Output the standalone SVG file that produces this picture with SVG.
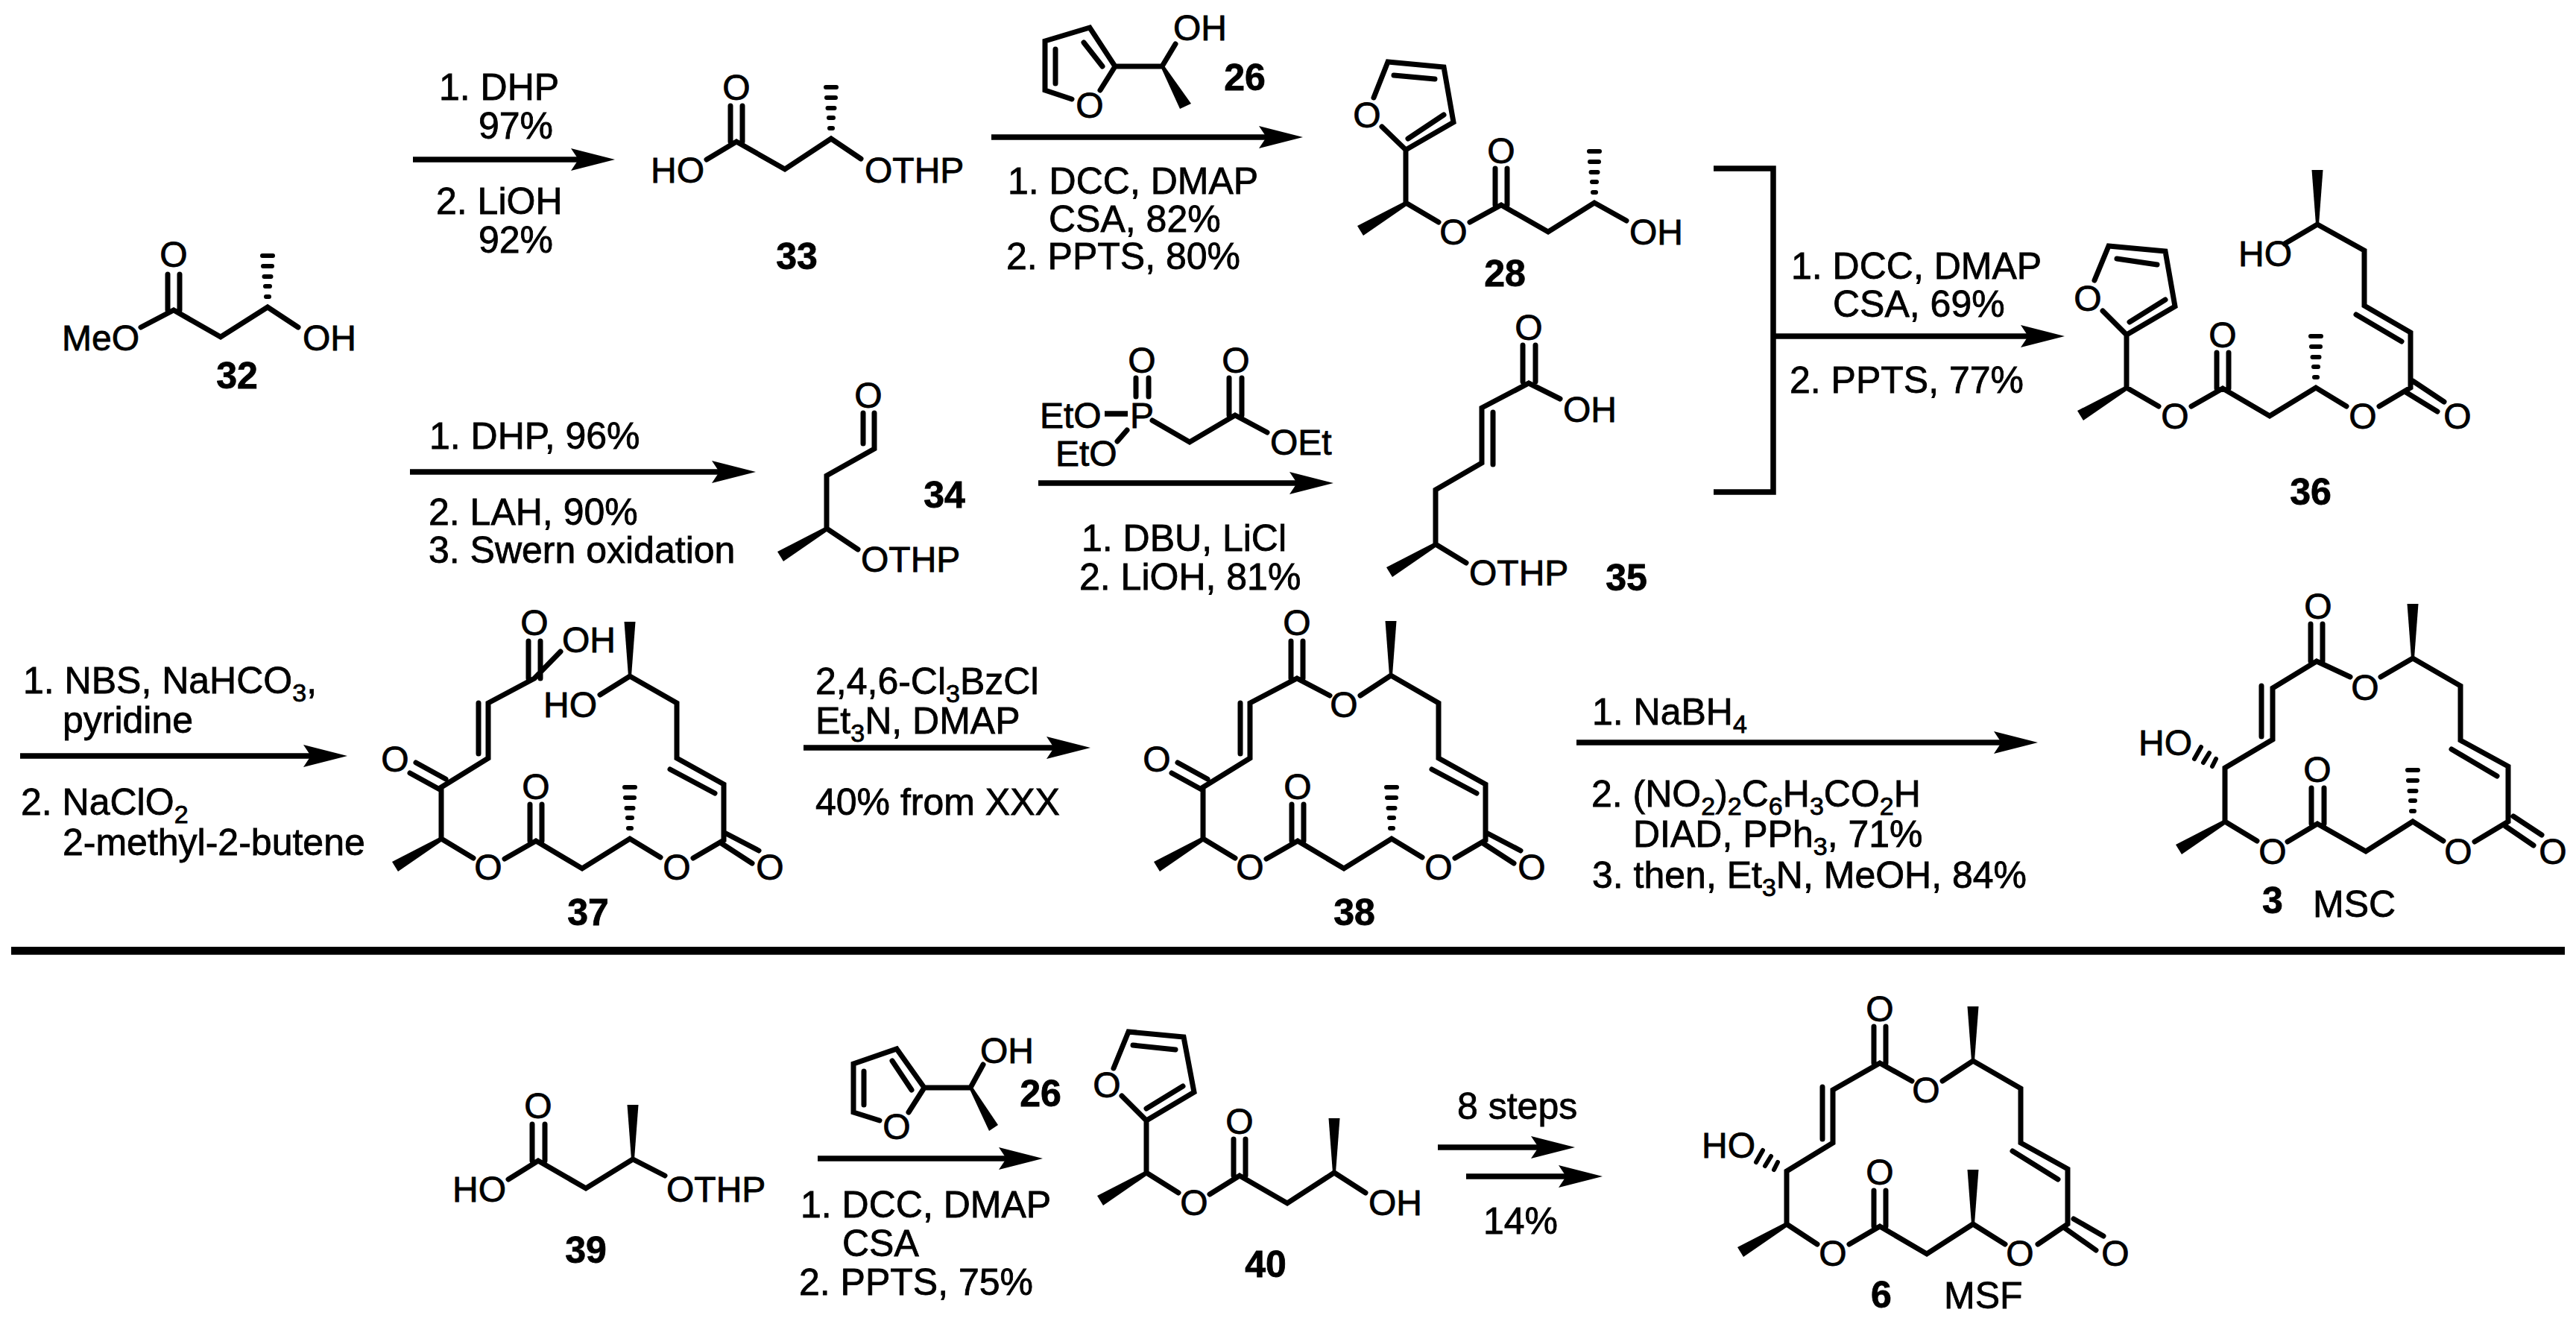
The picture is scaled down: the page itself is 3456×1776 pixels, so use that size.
<svg xmlns="http://www.w3.org/2000/svg" xmlns:xlink="http://www.w3.org/1999/xlink" width="3456" height="1776" viewBox="0 0 3456 1776">
<style>
text{font-family:"Liberation Sans",Arial,sans-serif;fill:#000;stroke:#000;stroke-width:.8}
.r{font-size:50px}
.a{font-size:48px}
.m{font-size:48px;text-anchor:middle}
.n{font-size:50px;font-weight:bold;text-anchor:middle}
.s{font-size:34px}
.b{fill:none;stroke:#000;stroke-width:7;stroke-linecap:round;stroke-linejoin:miter}
.h{fill:none;stroke:#000;stroke-width:6;stroke-linecap:round}
.c{fill:none;stroke:#000;stroke-width:7.5}
</style>
<defs>
<marker id="ah" markerUnits="userSpaceOnUse" markerWidth="60" markerHeight="32" viewBox="0 0 60 32" refX="30" refY="16" orient="auto"><path d="M60,16L1,1L11,16L1,31Z"/></marker>
<g id="hash"><path class="h" d="M-2,-14H2M-3,-28H3M-4.5,-41H4.5M-6,-55H6M-7,-69H7"/></g>
<polygon id="wu" points="-2,0 -7.5,-73 7.5,-73 2,0"/>
<polygon id="wd" points="0,-3 -66,31 -58,44 3,2"/>
</defs>
<rect width="3456" height="1776" fill="#fff"/>

<g id="connectors">
<path class="c" marker-end="url(#ah)" d="M554,214H795"/>
<path class="c" marker-end="url(#ah)" d="M1330,184H1718"/>
<path class="c" d="M2299,226H2379V660H2299"/>
<path class="c" marker-end="url(#ah)" d="M2379,451H2740"/>
<path class="c" marker-end="url(#ah)" d="M550,633H984"/>
<path class="c" marker-end="url(#ah)" d="M1393,648H1759"/>
<path class="c" marker-end="url(#ah)" d="M27,1014H436"/>
<path class="c" marker-end="url(#ah)" d="M1078,1003H1433"/>
<path class="c" marker-end="url(#ah)" d="M2115,996H2704"/>
<path class="c" marker-end="url(#ah)" d="M1097,1554H1369"/>
<path class="c" marker-end="url(#ah)" d="M1929,1539H2083"/>
<path class="c" marker-end="url(#ah)" d="M1967,1578H2120"/>
</g>

<rect id="separator" x="15" y="1270" width="3426" height="10.7" fill="#000"/>

<g id="reagents">
<text class="r" x="589" y="134">1. DHP</text>
<text class="r" x="642" y="186">97%</text>
<text class="r" x="585" y="287">2. LiOH</text>
<text class="r" x="642" y="339">92%</text>
<text class="r" x="1352" y="260">1. DCC, DMAP</text>
<text class="r" x="1407" y="311">CSA, 82%</text>
<text class="r" x="1350" y="361">2. PPTS, 80%</text>
<text class="r" x="2403" y="374">1. DCC, DMAP</text>
<text class="r" x="2459" y="425">CSA, 69%</text>
<text class="r" x="2401" y="527">2. PPTS, 77%</text>
<text class="r" x="576" y="602">1. DHP, 96%</text>
<text class="r" x="575" y="704">2. LAH, 90%</text>
<text class="r" x="575" y="755">3. Swern oxidation</text>
<text class="r" x="1451" y="739">1. DBU, LiCl</text>
<text class="r" x="1448" y="791">2. LiOH, 81%</text>
<text class="r" x="31" y="930">1. NBS, NaHCO<tspan class="s" dy="11">3</tspan><tspan dy="-11">,</tspan></text>
<text class="r" x="84" y="983">pyridine</text>
<text class="r" x="28" y="1093">2. NaClO<tspan class="s" dy="11">2</tspan></text>
<text class="r" x="84" y="1147">2-methyl-2-butene</text>
<text class="r" x="1094" y="931">2,4,6-Cl<tspan class="s" dy="11">3</tspan><tspan dy="-11">BzCl</tspan></text>
<text class="r" x="1094" y="984">Et<tspan class="s" dy="11">3</tspan><tspan dy="-11">N, DMAP</tspan></text>
<text class="r" x="1094" y="1093">40% from XXX</text>
<text class="r" x="2136" y="972">1. NaBH<tspan class="s" dy="11">4</tspan></text>
<text class="r" x="2135" y="1082">2. (NO<tspan class="s" dy="11">2</tspan><tspan dy="-11">)</tspan><tspan class="s" dy="11">2</tspan><tspan dy="-11">C</tspan><tspan class="s" dy="11">6</tspan><tspan dy="-11">H</tspan><tspan class="s" dy="11">3</tspan><tspan dy="-11">CO</tspan><tspan class="s" dy="11">2</tspan><tspan dy="-11">H</tspan></text>
<text class="r" x="2191" y="1136">DIAD, PPh<tspan class="s" dy="11">3</tspan><tspan dy="-11">, 71%</tspan></text>
<text class="r" x="2136" y="1191">3. then, Et<tspan class="s" dy="11">3</tspan><tspan dy="-11">N, MeOH, 84%</tspan></text>
<text class="r" x="1074" y="1633">1. DCC, DMAP</text>
<text class="r" x="1130" y="1685">CSA</text>
<text class="r" x="1072" y="1737">2. PPTS, 75%</text>
<text class="r" x="1955" y="1501">8 steps</text>
<text class="r" x="1990" y="1655">14%</text>
</g>

<g id="compound-32">
<path class="b" d="M189,439L233,416L296,452L359,412L400,439M225,368V416M241,368V416"/>
<use href="#hash" x="359" y="412"/>
<text class="m" x="233" y="358">O</text>
<text class="a" x="83" y="470">MeO</text>
<text class="a" x="406" y="470">OH</text>
<text class="n" x="318" y="521">32</text>
</g>

<g id="compound-33">
<path class="b" d="M948,214L988,190L1053,227L1115,186L1155,213M980,142V190M996,142V190"/>
<use href="#hash" x="1115" y="186"/>
<text class="m" x="988" y="134">O</text>
<text class="a" x="873" y="245">HO</text>
<text class="a" x="1160" y="245">OTHP</text>
<text class="n" x="1069" y="361">33</text>
</g>

<g id="compound-26a">
<path class="b" d="M1476,121L1496,89L1462,37L1402,55V121L1438,133M1479,89L1454,57M1416,66V112M1496,89H1559L1577,59"/>
<polygon points="1557,89 1561,87 1598,139 1583,146"/>
<text class="m" x="1462" y="158">O</text>
<text class="a" x="1574" y="54">OH</text>
<text class="n" x="1670" y="121">26</text>
</g>

<g id="compound-28">
<path class="b" d="M1843,131L1862,83L1937,90L1950,164L1886,201L1854,170M1870,101L1925,106M1889,186L1937,154M1886,201V272L1930,298M1972,298L2014,275L2077,311L2139,272L2182,296M2006,226V275M2022,226V275"/>
<use href="#wd" x="1887" y="272"/>
<use href="#hash" x="2139" y="272"/>
<text class="m" x="1834" y="171">O</text>
<text class="m" x="1950" y="328">O</text>
<text class="m" x="2014" y="219">O</text>
<text class="a" x="2186" y="328">OH</text>
<text class="n" x="2019" y="384">28</text>
</g>

<g id="compound-36">
<path class="b" d="M2810,376L2829,330L2905,337L2918,411L2853,449L2821,417M2840,347L2894,355M2857,432L2905,402M2853,449V520L2896,545M2940,545L2982,521L3045,558L3107,520L3148,545M3192,545L3234,520V446L3172,410V336L3109,301L3065,327M3222,458L3161,422M2974,473V521M2990,473V521M3237,511L3279,539M3226,525L3270,552"/>
<use href="#wd" x="2853" y="520"/>
<use href="#hash" x="3107" y="520"/>
<use href="#wu" x="3109" y="301"/>
<text class="m" x="2801" y="417">O</text>
<text class="m" x="2918" y="575">O</text>
<text class="m" x="2982" y="466">O</text>
<text class="m" x="3170" y="575">O</text>
<text class="m" x="3297" y="575">O</text>
<text class="a" x="3003" y="357">HO</text>
<text class="n" x="3100" y="677">36</text>
</g>

<g id="compound-34">
<path class="b" d="M1173,554V602L1109,638V709L1151,737M1158,554V595"/>
<use href="#wd" x="1109" y="709"/>
<text class="m" x="1165" y="547">O</text>
<text class="a" x="1155" y="767">OTHP</text>
<text class="n" x="1267" y="681">34</text>
</g>

<g id="reagent-phosphonate">
<path class="b" d="M1524,507V532M1541,507V532M1546,564L1596,593L1657,557L1700,580M1649,507V557M1666,507V557M1499,592L1512,577"/>
<path class="c" d="M1482,555H1513"/>
<text class="m" x="1532" y="500">O</text>
<text class="m" x="1658" y="500">O</text>
<text class="a" x="1516" y="574">P</text>
<text class="a" x="1395" y="574">EtO</text>
<text class="a" x="1416" y="625">EtO</text>
<text class="a" x="1704" y="610">OEt</text>
</g>

<g id="compound-35">
<path class="b" d="M2093,535L2051,514L1988,547V621L1926,657V730L1967,755M2003,553V623M2043,463V512M2060,463V512"/>
<use href="#wd" x="1926" y="730"/>
<text class="m" x="2051" y="456">O</text>
<text class="a" x="2097" y="566">OH</text>
<text class="a" x="1971" y="785">OTHP</text>
<text class="n" x="2182" y="792">35</text>
</g>

<g id="compound-37">
<path class="b" d="M635,1151L592,1125V1056L655,1017V943L717,910L752,874M677,1152L719,1128L781,1165L845,1125L886,1150M930,1151L971,1127V1052L908,1017V943L845,907L805,932M711,1079V1128M727,1079V1128M959,1064L899,1032M974,1118L1018,1141M966,1130L1009,1158M558,1023L598,1045M550,1037L590,1059M642,943V1011M709,860V910M725,860V910"/>
<use href="#wd" x="592" y="1125"/>
<use href="#hash" x="845" y="1125"/>
<use href="#wu" x="845" y="907"/>
<text class="m" x="655" y="1180">O</text>
<text class="m" x="719" y="1072">O</text>
<text class="m" x="908" y="1180">O</text>
<text class="m" x="1033" y="1180">O</text>
<text class="m" x="530" y="1035">O</text>
<text class="m" x="717" y="852">O</text>
<text class="a" x="754" y="875">OH</text>
<text class="a" x="729" y="962">HO</text>
<text class="n" x="789" y="1241">37</text>
</g>

<g id="compound-38">
<path class="b" d="M1657,1151L1614,1125V1056L1677,1017V943L1740,910L1784,933M1699,1152L1741,1128L1803,1165L1867,1125L1908,1150M1952,1151L1993,1127V1052L1930,1017V943L1866,906L1825,933M1733,1079V1128M1749,1079V1128M1981,1064L1921,1032M1996,1118L2040,1141M1988,1130L2031,1158M1580,1023L1620,1045M1572,1037L1612,1059M1664,943V1011M1732,860V910M1748,860V910"/>
<use href="#wd" x="1614" y="1125"/>
<use href="#hash" x="1867" y="1125"/>
<use href="#wu" x="1866" y="906"/>
<text class="m" x="1677" y="1180">O</text>
<text class="m" x="1741" y="1072">O</text>
<text class="m" x="1930" y="1180">O</text>
<text class="m" x="2055" y="1180">O</text>
<text class="m" x="1552" y="1035">O</text>
<text class="m" x="1740" y="852">O</text>
<text class="m" x="1803" y="962">O</text>
<text class="n" x="1817" y="1241">38</text>
</g>

<g id="compound-3">
<path class="b" d="M3028,1128L2985,1102V1030L3049,992V923L3108,887L3153,908M3069,1129L3109,1105L3174,1142L3237,1102L3278,1128M3320,1129L3365,1102V1028L3301,993V920L3237,883L3194,908M3101,1057V1105M3118,1057V1105M3350,1041L3289,1005M3372,1095L3410,1120M3361,1108L3399,1134M3034,920V988M3100,837V887M3116,837V887"/>
<path class="h" d="M2973,1018L2968,1028M2964,1010L2956,1023M2953,1002L2944,1018"/>
<use href="#wd" x="2985" y="1102"/>
<use href="#hash" x="3237" y="1102"/>
<use href="#wu" x="3237" y="883"/>
<text class="m" x="3049" y="1159">O</text>
<text class="m" x="3109" y="1049">O</text>
<text class="m" x="3298" y="1159">O</text>
<text class="m" x="3425" y="1159">O</text>
<text class="m" x="3173" y="939">O</text>
<text class="m" x="3110" y="830">O</text>
<text class="a" x="2869" y="1013">HO</text>
<text class="n" x="3049" y="1225">3</text>
<text class="r" x="3103" y="1230">MSC</text>
</g>

<g id="compound-39">
<path class="b" d="M682,1582L722,1557L786,1594L849,1555L892,1577M714,1508V1557M731,1508V1557"/>
<use href="#wu" x="849" y="1555"/>
<text class="m" x="722" y="1500">O</text>
<text class="a" x="607" y="1612">HO</text>
<text class="a" x="894" y="1612">OTHP</text>
<text class="n" x="786" y="1694">39</text>
</g>

<g id="compound-26b">
<path class="b" d="M1219,1492L1240,1459L1203,1407L1145,1427V1492L1180,1503M1223,1462L1197,1423M1159,1437V1482M1240,1459H1302L1319,1428"/>
<polygon points="1300,1459 1304,1457 1339,1509 1327,1517"/>
<text class="m" x="1203" y="1528">O</text>
<text class="a" x="1315" y="1426">OH</text>
<text class="n" x="1396" y="1484">26</text>
</g>

<g id="compound-40">
<path class="b" d="M1494,1433L1514,1384L1588,1391L1602,1465L1538,1503L1505,1470M1520,1402L1577,1408M1538,1487L1587,1457M1538,1503V1573L1581,1600M1623,1602L1663,1577L1727,1614L1790,1573L1832,1600M1655,1528V1577M1671,1528V1577"/>
<use href="#wd" x="1538" y="1573"/>
<use href="#wu" x="1790" y="1573"/>
<text class="m" x="1485" y="1472">O</text>
<text class="m" x="1602" y="1630">O</text>
<text class="m" x="1663" y="1521">O</text>
<text class="a" x="1836" y="1630">OH</text>
<text class="n" x="1698" y="1713">40</text>
</g>

<g id="compound-6">
<path class="b" d="M2438,1669L2397,1642V1571L2459,1533V1462L2522,1426L2565,1450M2481,1669L2522,1645L2585,1682L2647,1642L2690,1669M2734,1669L2774,1642V1568L2711,1533V1460L2647,1423L2606,1450M2514,1597V1645M2530,1597V1645M2761,1582L2700,1544M2782,1635L2822,1658M2771,1648L2812,1677M2445,1458V1528M2514,1377V1426M2530,1377V1426"/>
<path class="h" d="M2385,1559L2380,1569M2376,1551L2368,1564M2365,1543L2356,1559"/>
<use href="#wd" x="2397" y="1642"/>
<use href="#wu" x="2647" y="1642"/>
<use href="#wu" x="2647" y="1423"/>
<text class="m" x="2459" y="1698">O</text>
<text class="m" x="2522" y="1589">O</text>
<text class="m" x="2710" y="1698">O</text>
<text class="m" x="2838" y="1698">O</text>
<text class="m" x="2584" y="1479">O</text>
<text class="m" x="2522" y="1370">O</text>
<text class="a" x="2283" y="1553">HO</text>
<text class="n" x="2524" y="1754">6</text>
<text class="r" x="2608" y="1755">MSF</text>
</g>
</svg>
